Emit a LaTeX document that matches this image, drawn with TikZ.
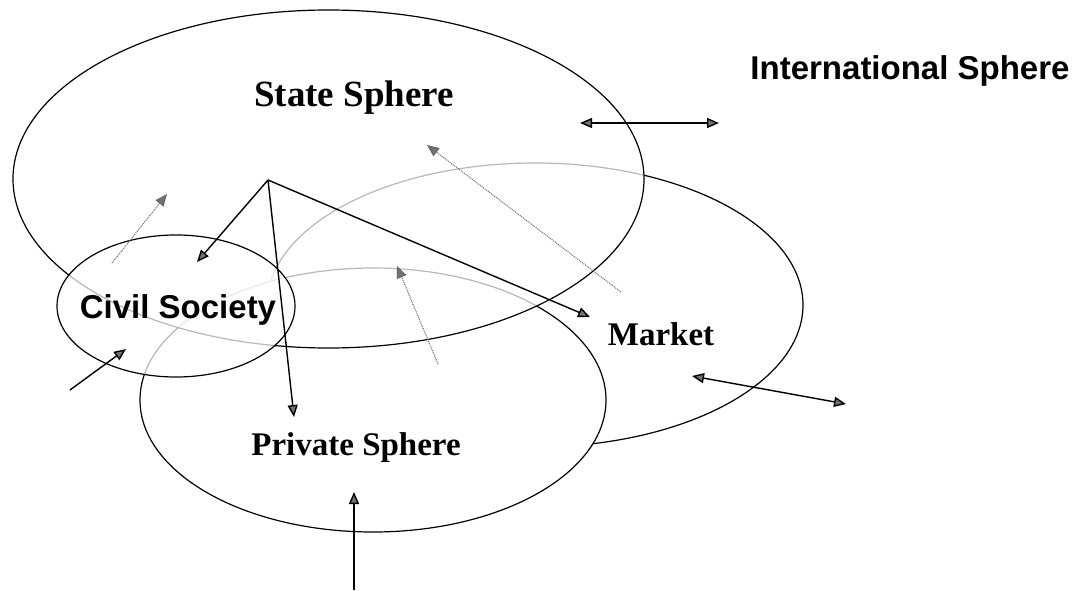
\documentclass[tikz,border=0pt]{standalone}
\usepackage{fontspec}
\setmainfont{Liberation Serif}
\newfontfamily\arialfont{Liberation Sans}
\usetikzlibrary{arrows.meta}

\begin{document}
\begin{tikzpicture}[
  x=1pt, y=-1pt,
  sphere/.style={line width=1.2pt},
  veil/.style={sphere, fill=white, fill opacity=0.72},
  tip/.style={Triangle[length=12pt, width=10pt, fill=black!55]},
  arrow/.style={-{Triangle[length=12pt, width=10pt, fill=black!55]}, line width=1.4pt},
  twoway/.style={{Triangle[length=12pt, width=10pt, fill=black!55]}-{Triangle[length=12pt, width=10pt, fill=black!55]}, line width=1.4pt},
  dotarrow/.style={-{Triangle[length=12pt, width=10pt, fill=black!55]}, line width=1pt, densely dotted, black!60},
  seriflabel/.style={font=\fontsize{33}{36}\selectfont\bfseries, anchor=base},
  sanslabel/.style={font=\arialfont\fontsize{33}{36}\selectfont\bfseries, anchor=base}
]

\useasboundingbox (0,0) rectangle (1076,591);

%% ── Sphere centres ───────────────────────────────────────────────────
\def\xS{328.5} \def\yS{179}   % State
\def\xM{535}   \def\yM{305}   % Market
\def\xP{373}   \def\yP{400}   % Private
\def\xC{176}   \def\yC{306}   % Civil society

%% ── Spheres (back to front) ──────────────────────────────────────────
\draw[sphere] (\xM,\yM) ellipse [x radius=268, y radius=142];
\draw[sphere, fill=white] (\xP,\yP) ellipse [x radius=233, y radius=132];
\draw[veil] (\xS,\yS) ellipse [x radius=315.5, y radius=169];
\draw[veil] (\xC,\yC) ellipse [x radius=119, y radius=71];

%% ── Labels ───────────────────────────────────────────────────────────
\node[seriflabel, font=\fontsize{37}{40}\selectfont\bfseries] (state) at (354,107) {State Sphere};
\node[sanslabel] (intl) at (910,80) {International Sphere};
\node[sanslabel] (civil) at (178,318) {Civil Society};
\node[seriflabel] (market) at (661,345) {Market};
\node[seriflabel] (private) at (356,455) {Private Sphere};

%% ── Arrow end points ─────────────────────────────────────────────────
\coordinate (apex)   at (268,180);
\coordinate (toCiv)  at (197,262);
\coordinate (toPriv) at (294,417);
\coordinate (toMkt)  at (590,317);
\coordinate (civIn0) at (70,390);   \coordinate (civIn1) at (126,349);
\coordinate (prvIn0) at (354,590);  \coordinate (prvIn1) at (354,492);
\coordinate (intA)   at (580,123);  \coordinate (intB)   at (719,123);
\coordinate (mktA)   at (692,376);  \coordinate (mktB)   at (846,404);
\coordinate (civUp0) at (112,263);  \coordinate (civUp1) at (167,194);
\coordinate (prvUp0) at (438,364);  \coordinate (prvUp1) at (397,266);
\coordinate (mktUp0) at (621,292);  \coordinate (mktUp1) at (427,145);

%% ── State reaching out ───────────────────────────────────────────────
\draw[arrow] (apex) -- (toCiv);
\draw[arrow] (apex) -- (toPriv);
\draw[arrow] (apex) -- (toMkt);

%% ── Pressure from outside ────────────────────────────────────────────
\draw[arrow] (civIn0) -- (civIn1);
\draw[arrow] (prvIn0) -- (prvIn1);
\draw[twoway] (intA) -- (intB);
\draw[twoway] (mktA) -- (mktB);

%% ── Feedback into the state (dotted) ─────────────────────────────────
\draw[dotarrow] (civUp0) -- (civUp1);
\draw[dotarrow] (prvUp0) -- (prvUp1);
\draw[dotarrow] (mktUp0) -- (mktUp1);

\end{tikzpicture}
\end{document}
